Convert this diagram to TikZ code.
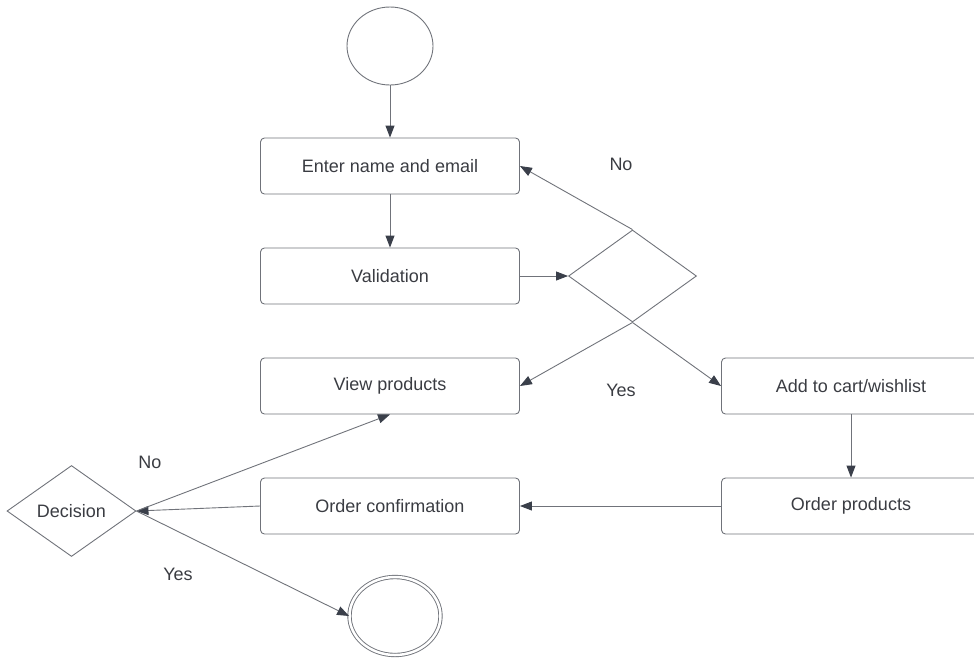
\documentclass[tikz,border=0pt]{standalone}
\usepackage{fontspec}
\setmainfont{Liberation Sans}
\usetikzlibrary{shapes.geometric,arrows.meta}
\definecolor{linegray}{RGB}{112,115,122}
\definecolor{tipgray}{RGB}{58,63,74}
\definecolor{txtgray}{RGB}{58,60,66}
\begin{document}
\begin{tikzpicture}[x=1pt, y=-1pt, node distance={110pt}, line width=0.9pt, draw=linegray, text=txtgray, font=\fontsize{18}{21}\selectfont,
  box/.style = {draw=linegray, rounded corners=4pt, minimum width=259pt, minimum height=56pt, inner sep=0pt},
  choice/.style = {draw=linegray, diamond, inner sep=0pt},
  term/.style = {draw=linegray, ellipse, inner sep=0pt},
  >={Triangle[length=12pt, width=9pt, color=tipgray]}]
\useasboundingbox (0,0) rectangle (974,657);

\node[term, minimum width=86pt, minimum height=78pt] (start) at (390,46) {};
\node[box] (enter) [below of=start][node distance={120pt}] {Enter name and email};
\node[box] (valid) [below of=enter] {Validation};
\node[box] (view)  [below of=valid] {View products};
\node[choice, minimum width=128pt, minimum height=92pt] (check) [right of=valid][node distance={242.5pt}] {};
\node[box] (add)   [right of=view][node distance={461pt}] {Add to cart/wishlist};
\node[box] (order) [below of=add][node distance={120pt}] {Order products};
\node[box] (confirm) [left of=order][node distance={461pt}] {Order confirmation};
\node[choice, minimum width=129pt, minimum height=91pt] (decide) [left of=confirm][node distance={318.5pt}, yshift=-5pt] {Decision};
\node[term, double, double distance=2.5pt, minimum width=91pt, minimum height=78pt] (stop) at (395,616) {};

\node (no1)  at (621,164) {No};
\node (yes1) at (621,390) {Yes};
\node (no2)  at (150,462) {No};
\node (yes2) at (178,574) {Yes};

\draw[->] (start) -- (enter);
\draw[->] (enter) -- (valid);
\draw[->] (valid) -- (check);
\draw[->] (check.north) -- (enter.east);
\draw[->] (check.south) -- (view.east);
\draw[->] (check.south) -- (add.west);
\draw[->] (add) -- (order);
\draw[->] (order) -- (confirm);
\draw[->] (confirm.west) -- (decide.east);
\draw[->] (decide.east) -- (view.south);
\draw[->] (decide.east) -- (stop.west);

\end{tikzpicture}
\end{document}
